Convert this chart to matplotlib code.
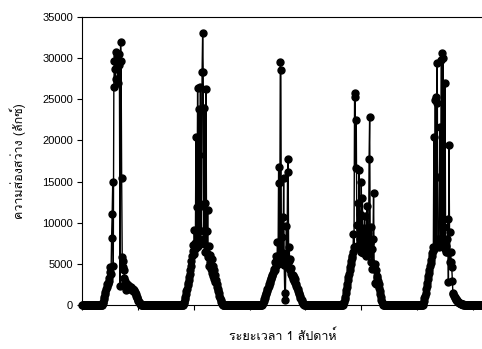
import numpy as np
import matplotlib
matplotlib.use("Agg")
import matplotlib.pyplot as plt
from matplotlib import font_manager
from matplotlib.ft2font import FT2Font

# illuminance logged every 10 minutes, 144 readings per day
PER_DAY = 144
N_DAYS = 5

# daylight readings (lux) per day, with the index of the first daylight reading
day1_start = 36
day1 = [50, 200, 400, 700, 1000, 1300, 1600, 1900, 2200, 2500, 2700, 2600, 2900, 3300,
        4000, 4600, 3800, 8200, 11000, 14900, 4700, 26500, 29700, 28700,
        27500, 30700, 29400, 30300, 27000, 29800, 30500, 29200, 2300, 32000,
        29600, 15400, 5800, 4600, 5400, 4300,
        3300, 2900, 1800, 2600, 2300, 2500, 2200, 2400, 2100, 2300,
        2000, 2200, 1900, 2000, 1800, 1900, 1700, 1800, 1600, 1500,
        1300, 1100, 950, 800, 650, 500, 380, 270, 180, 100, 50, 20]

day2_start = 37
day2 = [50, 200, 400, 700, 1000, 1300, 1700, 2000, 2400, 2700, 3000, 3400, 3800, 4200,
        4800, 5400, 6000, 6600,
        7300, 6200, 9100, 6800, 7500, 20400, 7000, 11900, 26400, 7200,
        23800, 18200, 8000, 26500, 12000, 9000, 28300, 33000, 28300, 7400,
        24000, 6500, 12400, 26300, 9000, 6300, 11600, 5800, 7200, 4700,
        6100, 5200, 4400, 5600, 3900,
        4800, 3500, 4300, 3200, 3600, 2800, 3000, 2500, 2200, 2000,
        1700, 1400, 1100, 850, 600, 400, 220, 100, 30]

day3_start = 34
day3 = [50, 150, 300, 500, 700, 900, 1100, 1300, 1500, 1700, 1900, 2100, 2300, 2500,
        2700, 2900, 3100, 3300, 3500, 3700, 3900, 4100, 4400,
        5200, 4300, 6000, 4800, 5500, 7600, 5000, 16800, 14800, 6200,
        29500, 28600, 5400, 8300, 10700, 6300, 15400, 4900, 1500, 600,
        5800, 9600, 4600, 16200, 17700, 5300, 7100, 4200, 5600, 3800,
        4500, 3500,
        3600, 3200, 3400, 2900, 3100, 2700, 2500, 2300, 2100, 1900,
        1700, 1500, 1300, 1100, 900, 700, 550, 400, 280, 170, 90, 40, 10]

day4_start = 35
day4 = [50, 200, 400, 700, 1000, 1400, 1800, 2200, 2600, 3000, 3400, 3800, 4200, 4600,
        5000, 5400, 5700, 5900,
        6400, 8600, 7000, 25300, 25800, 16600, 22500, 9700, 7200, 12400,
        6900, 16400, 8000, 11000, 6500, 15000, 7800, 13000, 6300, 9400,
        7200, 10800, 6800, 8300, 6000, 12000, 7000, 8800, 6200, 17800,
        22900, 7500, 9500, 5200, 6800, 4400, 8000, 13600, 4800, 2700,
        5000, 2500, 4200, 3500,
        3300, 2900, 2500, 2100, 1700, 1300, 950, 650, 380, 170, 50]

day5_start = 34
day5 = [50, 250, 500, 800, 1100, 1500, 1900, 2300, 2700, 3100, 3500, 3900, 4300, 4700,
        5100, 5500, 5900,
        6300, 7000, 6600, 20400, 6800, 24900, 25300, 7200, 24500, 29400,
        7400, 8000, 7000, 15600, 21600, 7600, 29800, 30600, 8200, 30000,
        7400, 9500, 6800, 27000, 7200, 6400, 8000, 6400, 10500, 2800,
        19400, 8900, 5200, 6400, 5200, 4600,
        2900, 1500, 1300, 1150, 1000, 880, 760, 650, 560, 480,
        410, 350, 300, 250, 210, 170, 140, 110, 90, 70,
        50, 40, 30, 20, 10, 5, 0]

days = [(day1_start, day1), (day2_start, day2), (day3_start, day3),
        (day4_start, day4), (day5_start, day5)]

lux = np.zeros(PER_DAY * N_DAYS)
for d, (start, vals) in enumerate(days):
    i0 = d * PER_DAY + start
    lux[i0:i0 + len(vals)] = vals
x = np.arange(len(lux))


def find_family(codepoint):
    # first installed font that actually carries the glyph
    for f in font_manager.fontManager.ttflist:
        try:
            if codepoint in FT2Font(f.fname).get_charmap():
                return f.name
        except Exception:
            pass
    return None


thai = find_family(0x0E2A)
thai_fams = ([thai] if thai else []) + ['Liberation Sans', 'DejaVu Sans']

plt.rcParams['font.family'] = ['Liberation Sans', 'DejaVu Sans']

fig = plt.figure(figsize=(4.82, 3.49), dpi=100)
ax = fig.add_axes([82 / 482, 44 / 349, 401.6 / 482, 288 / 349])

ax.plot(x, lux, color='black', lw=1.0, marker='o', ms=5.0,
        mfc='black', mec='black', clip_on=False, zorder=3)

ax.set_xlim(0, len(lux) - 1)
ax.set_ylim(0, 35000)
ax.set_yticks(np.arange(0, 35001, 5000))
ax.set_xticks(np.arange(0, len(lux), 100))
ax.set_xticklabels([])
ax.tick_params(axis='both', direction='out', length=3.5, width=0.8, labelsize=8, pad=3)
for s in ax.spines.values():
    s.set_linewidth(0.8)

ax.set_xlabel('ระยะเวลา 1 สัปดาห์', fontsize=9, labelpad=11, family=thai_fams)
ax.set_ylabel('ความส่องสว่าง (ลักซ์)', fontsize=9, labelpad=12, family=thai_fams)

fig.savefig('out.png', dpi=100)
